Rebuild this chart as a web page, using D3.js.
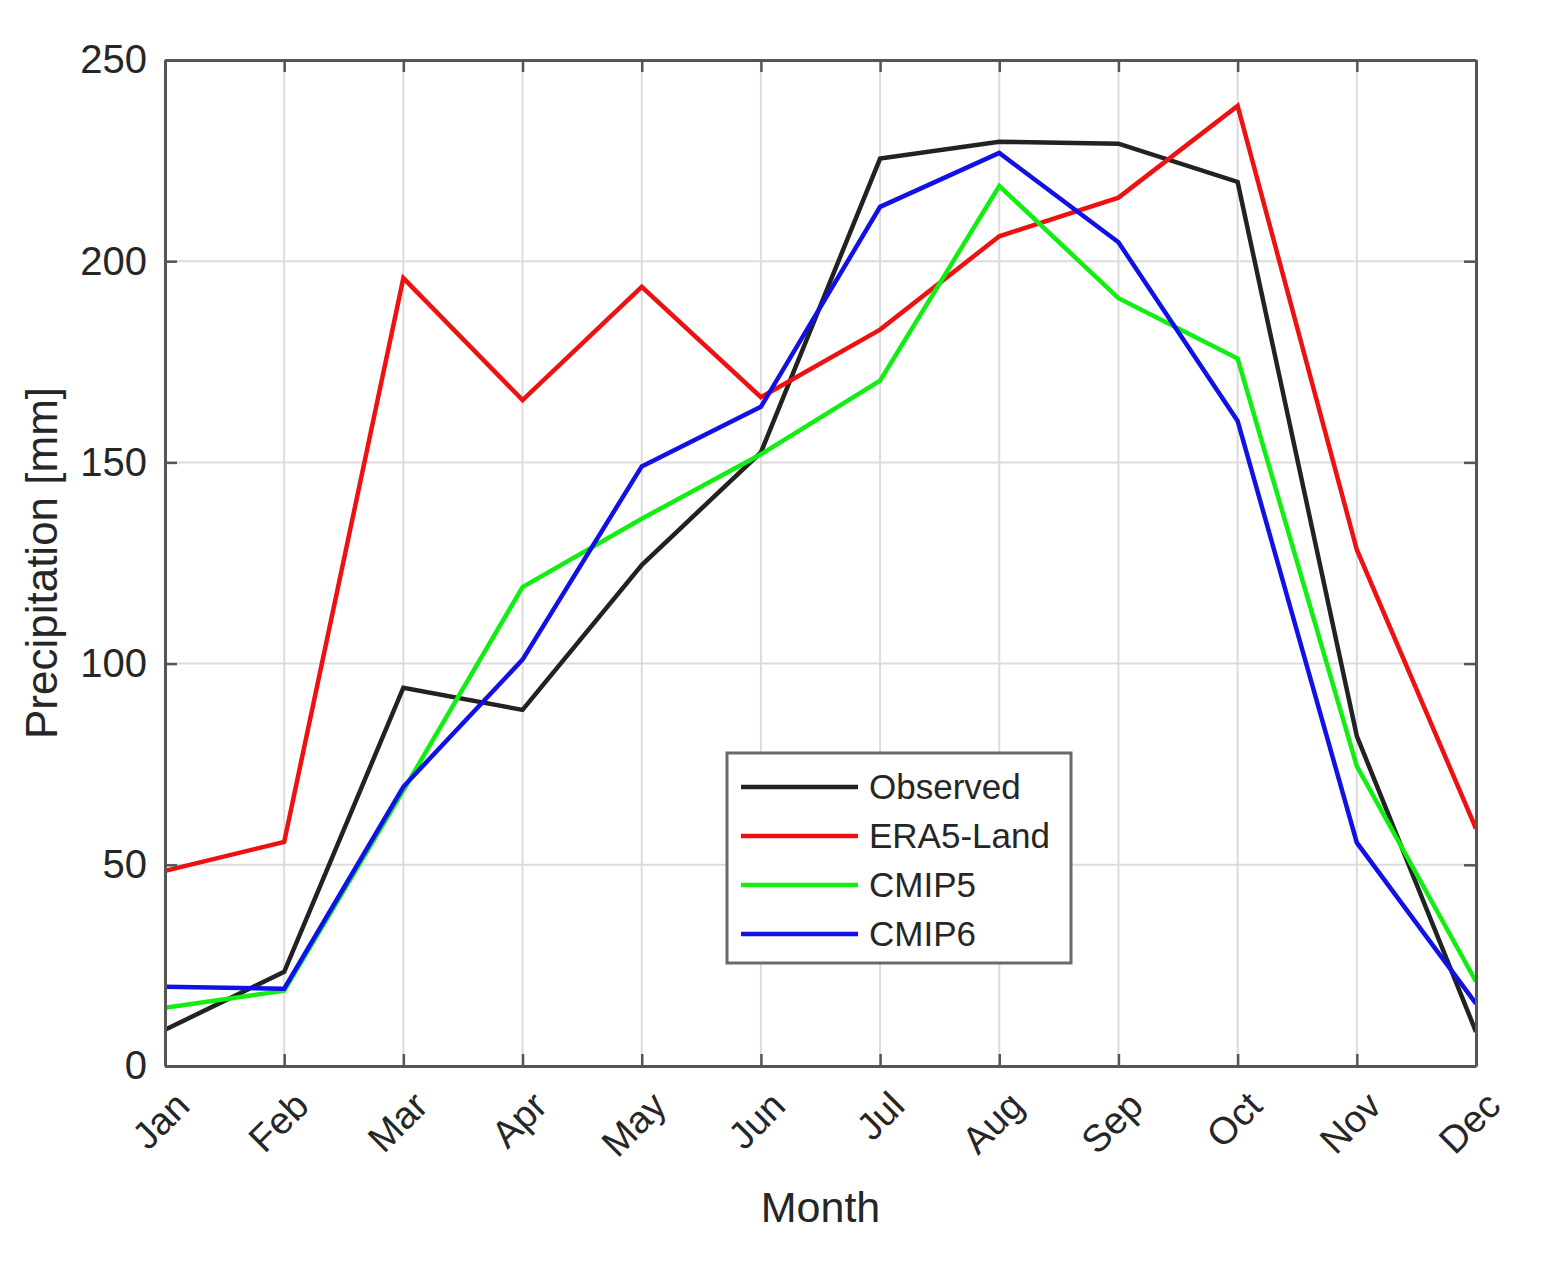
<!DOCTYPE html>
<html>
<head>
<meta charset="utf-8">
<script src="https://cdn.jsdelivr.net/npm/d3@7"></script>
<style>
  body { margin: 0; background: #fff; }
  svg { font-family: "Liberation Sans", Arial, sans-serif; }
</style>
</head>
<body>
<svg id="chart" width="1567" height="1278"></svg>
<script>
// Monthly precipitation climatology (mm)
const months = ["Jan", "Feb", "Mar", "Apr", "May", "Jun", "Jul", "Aug", "Sep", "Oct", "Nov", "Dec"];
const observed = [9, 23.4, 94, 88.5, 124.5, 152.5, 225.5, 229.7, 229.2, 219.7, 82, 8.5];
const era5Land = [48.5, 55.7, 195.8, 165.5, 193.6, 166.2, 183, 206.2, 215.8, 238.6, 128.3, 59];
const cmip5 = [14.5, 18.7, 68.5, 119, 136, 152, 170.3, 218.7, 190.8, 175.8, 74.5, 21];
const cmip6 = [19.7, 19.2, 69.4, 101, 149, 163.8, 213.5, 226.9, 204.7, 160.3, 55.5, 15.5];
const yTicks = [0, 50, 100, 150, 200, 250];

const series = [
    {name: "Observed", values: observed, color: "#222222"},
    {name: "ERA5-Land", values: era5Land, color: "#ee1111"},
    {name: "CMIP5", values: cmip5, color: "#11ee11"},
    {name: "CMIP6", values: cmip6, color: "#1111e6"}
];

const svg = d3.select("#chart");
const margin = {top: 60, right: 91, bottom: 212, left: 165};
const width = 1567 - margin.left - margin.right;
const height = 1278 - margin.top - margin.bottom;
const textColor = "#262626";
const axisColor = "#555555";

const g = svg.append("g").attr("transform", `translate(${margin.left},${margin.top})`);

const x = d3.scalePoint().domain(months).range([0, width]);
const y = d3.scaleLinear().domain([0, 250]).range([height, 0]);

// grid lines
g.append("g").selectAll("line").data(months).join("line")
    .attr("x1", d => x(d)).attr("x2", d => x(d))
    .attr("y1", 0).attr("y2", height)
    .attr("stroke", "#dcdcdc").attr("stroke-width", 2);
g.append("g").selectAll("line").data(yTicks).join("line")
    .attr("x1", 0).attr("x2", width)
    .attr("y1", d => y(d)).attr("y2", d => y(d))
    .attr("stroke", "#dcdcdc").attr("stroke-width", 2);

// data lines
const line = d3.line().x((d, i) => x(months[i])).y(d => y(d));
g.append("g").selectAll("path").data(series).join("path")
    .attr("d", d => line(d.values))
    .attr("fill", "none")
    .attr("stroke", d => d.color)
    .attr("stroke-width", 4.5)
    .attr("stroke-linejoin", "miter");

// axes (ticks pointing inward, MATLAB style box)
const tickLen = 12;
const axLeft = g.append("g").call(d3.axisLeft(y).tickValues(yTicks).tickSizeInner(-tickLen).tickSizeOuter(0).tickPadding(tickLen + 6));
const axRight = g.append("g").attr("transform", `translate(${width},0)`)
    .call(d3.axisRight(y).tickValues(yTicks).tickSizeInner(-tickLen).tickSizeOuter(0).tickFormat(""));
const axBottom = g.append("g").attr("transform", `translate(0,${height})`)
    .call(d3.axisBottom(x).tickSizeInner(-tickLen).tickSizeOuter(0).tickFormat(""));
const axTop = g.append("g").call(d3.axisTop(x).tickSizeInner(-tickLen).tickSizeOuter(0).tickFormat(""));

[axLeft, axRight, axBottom, axTop].forEach(a => {
    a.select(".domain").attr("stroke", axisColor).attr("stroke-width", 3);
    a.selectAll(".tick line").attr("stroke", axisColor).attr("stroke-width", 2.5);
});
axLeft.selectAll(".tick text")
    .attr("fill", textColor)
    .style("font-size", "40px");

// rotated month labels
axBottom.selectAll(".tick").append("text")
    .attr("fill", textColor)
    .attr("text-anchor", "end")
    .attr("transform", "translate(6,22) rotate(-45)")
    .attr("dy", "0.75em")
    .style("font-size", "38px")
    .text(d => d);

// axis titles
g.append("text")
    .attr("x", width / 2).attr("y", height + 156)
    .attr("text-anchor", "middle")
    .attr("fill", textColor)
    .style("font-size", "43px")
    .text("Month");
g.append("text")
    .attr("transform", `translate(${-108},${height / 2}) rotate(-90)`)
    .attr("text-anchor", "middle")
    .attr("fill", textColor)
    .style("font-size", "44px")
    .text("Precipitation [mm]");

// legend
const legend = g.append("g").attr("transform", `translate(${727 - margin.left},${753 - margin.top})`);
legend.append("rect")
    .attr("width", 344).attr("height", 210)
    .attr("fill", "#fff").attr("stroke", "#6a6a6a").attr("stroke-width", 3);
const items = legend.selectAll("g.item").data(series).join("g")
    .attr("transform", (d, i) => `translate(0,${34 + i * 49})`);
items.append("line")
    .attr("x1", 14).attr("x2", 131)
    .attr("stroke", d => d.color).attr("stroke-width", 4.5);
items.append("text")
    .attr("x", 142).attr("dy", "0.35em")
    .attr("fill", textColor)
    .style("font-size", "35px")
    .text(d => d.name);
</script>
</body>
</html>
